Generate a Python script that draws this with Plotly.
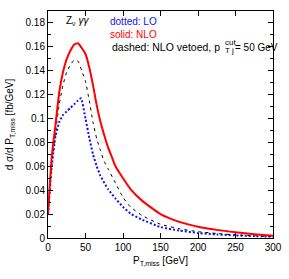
import plotly.graph_objects as go

x_nlo = [0, 5, 10, 15, 20, 25, 30, 35, 40, 45, 50, 55, 60, 65, 70, 75, 80, 85, 90, 100, 110, 125, 150, 175, 200, 225, 250, 275, 300]
y_nlo = [0.020, 0.068, 0.095, 0.122, 0.139, 0.150, 0.157, 0.162, 0.163, 0.159, 0.154, 0.143, 0.128, 0.111, 0.097, 0.086, 0.076, 0.068, 0.060, 0.050, 0.041, 0.0315, 0.020, 0.0135, 0.0095, 0.0068, 0.0048, 0.0032, 0.0018]

x_veto = [0, 5, 10, 15, 20, 25, 30, 35, 40, 45, 50, 55, 60, 65, 70, 75, 80, 90, 100, 110, 125, 150, 175, 200, 225, 250, 275, 300]
y_veto = [0.020, 0.062, 0.088, 0.112, 0.128, 0.139, 0.145, 0.149, 0.148, 0.140, 0.131, 0.115, 0.097, 0.083, 0.073, 0.064, 0.058, 0.046, 0.034, 0.026, 0.019, 0.0115, 0.0078, 0.0053, 0.0038, 0.0026, 0.0018, 0.0011]

x_lo = [0, 5, 10, 15, 20, 25, 30, 35, 40, 44, 50, 55, 60, 65, 70, 80, 90, 100, 110, 125, 150, 175, 200, 225, 250, 275, 300]
y_lo = [0.020, 0.060, 0.085, 0.097, 0.103, 0.106, 0.109, 0.112, 0.115, 0.117, 0.100, 0.084, 0.070, 0.060, 0.052, 0.041, 0.033, 0.026, 0.0205, 0.0155, 0.0092, 0.0062, 0.0042, 0.0030, 0.0022, 0.0016, 0.0011]

FONT = "Liberation Sans, Arial, sans-serif"

fig = go.Figure()
fig.add_trace(go.Scatter(x=x_lo, y=y_lo, mode="lines", hoverinfo="skip",
                         line=dict(color="#1010ee", width=2, dash="2px,2px", shape="spline", smoothing=0.5)))
fig.add_trace(go.Scatter(x=x_veto, y=y_veto, mode="lines", hoverinfo="skip",
                         line=dict(color="black", width=1, dash="3px,4px", shape="spline", smoothing=0.5)))
fig.add_trace(go.Scatter(x=x_nlo, y=y_nlo, mode="lines", hoverinfo="skip",
                         line=dict(color="#ff0000", width=2, shape="spline", smoothing=0.5)))

ann = []
def add(text, x, y, color="black", size=10, xanchor="left"):
    ann.append(dict(text=text, x=x, y=y, xref="paper", yref="paper", xanchor=xanchor,
                    yanchor="middle", showarrow=False, font=dict(color=color, size=size, family=FONT)))

# plot area: x 48..273, y 11..238
def px(xp):
    return (xp - 48) / 225.0
def py(yp):
    return (238 - yp) / 227.0

add("Z<sub>ν</sub> <i>γγ</i>", px(64), py(21))
add("dotted: LO", px(108), py(21.5), color="#1010ee")
add("solid: NLO", px(108), py(34.5), color="#ff0000")
add("dashed: NLO vetoed, p", px(222), py(47), xanchor="right", size=10.5)
add("cut", px(222.5), py(42.5), size=8)
add("T j", px(222.5), py(50.5), size=8)
add("= 50 GeV", px(233), py(47))

fig.update_layout(
    width=289, height=279,
    margin=dict(l=48, r=16, t=11, b=41),
    paper_bgcolor="white", plot_bgcolor="white",
    showlegend=False,
    font=dict(family=FONT, size=10, color="black"),
    annotations=ann,
)
fig.update_xaxes(range=[0, 300], tickvals=[0, 50, 100, 150, 200, 250, 300], automargin=False,
                 ticks="inside", ticklen=5, tickcolor="black", mirror="allticks",
                 showline=True, linecolor="black", linewidth=1, showgrid=False, zeroline=False,
                 tickfont=dict(size=10),
                 title=dict(text="P<sub>T,miss</sub> [GeV]", font=dict(size=10), standoff=4))
fig.update_yaxes(range=[0, 0.19], tickvals=[0, 0.02, 0.04, 0.06, 0.08, 0.1, 0.12, 0.14, 0.16, 0.18], automargin=False,
                 ticktext=["0", "0.02", "0.04", "0.06", "0.08", "0.1", "0.12", "0.14", "0.16", "0.18"],
                 ticks="inside", ticklen=5, tickcolor="black", mirror="allticks",
                 minor=dict(tickvals=[0.01, 0.03, 0.05, 0.07, 0.09, 0.11, 0.13, 0.15, 0.17], ticks="inside", ticklen=3, tickcolor="black"),
                 showline=True, linecolor="black", linewidth=1, showgrid=False, zeroline=False,
                 tickfont=dict(size=10),
                 title=dict(text="d σ/d P<sub>T,miss</sub> [fb/GeV]", font=dict(size=10), standoff=10))

fig.write_html("out.html", config={"displayModeBar": False},
               post_script="document.body.style.margin='0';document.body.style.overflow='hidden';")
